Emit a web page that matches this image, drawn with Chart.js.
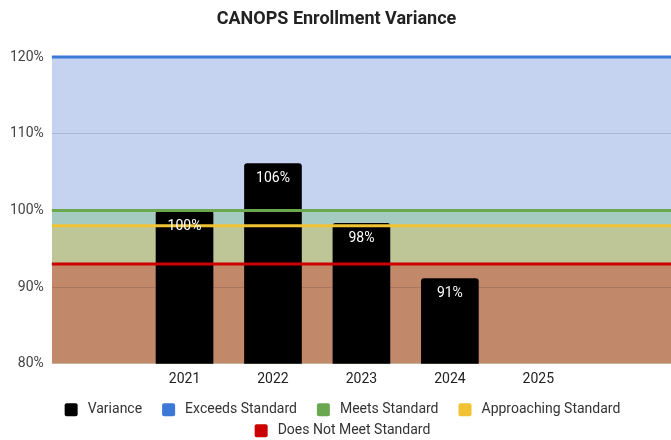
<!DOCTYPE html>
<html>
<head>
<meta charset="utf-8">
<script src="https://cdn.jsdelivr.net/npm/chart.js@4.4.1/dist/chart.umd.min.js"></script>
<style>
  body { margin: 0; background: #fff; }
  #wrap { width: 671px; height: 440px; }
</style>
</head>
<body>
<div id="wrap"><canvas id="enrollChart"></canvas></div>
<script>
// blank first/last slots keep the bars centred like the sheet
const years = ["", "2021", "2022", "2023", "2024", "2025", ""];
const variance = [null, 99.9, 106.1, 98.3, 91.1, null, null];

const exceedsStandard = [120, 120, 120, 120, 120, 120, 120];
const meetsStandard = [100, 100, 100, 100, 100, 100, 100];
const approachingStandard = [98, 98, 98, 98, 98, 98, 98];
const doesNotMeetStandard = [93, 93, 93, 93, 93, 93, 93];

const yTicks = [80, 90, 100, 110, 120];

Chart.defaults.font.family = "Roboto";

// white % labels inside the top of each bar
const barLabels = {
  id: "barLabels",
  afterDatasetsDraw(chart) {
    const ctx = chart.ctx;
    const meta = chart.getDatasetMeta(0);
    ctx.save();
    ctx.font = "14px Roboto";
    ctx.fillStyle = "#ffffff";
    ctx.textAlign = "center";
    ctx.textBaseline = "middle";
    meta.data.forEach((bar, i) => {
      if (variance[i] == null) return;
      ctx.fillText(Math.round(variance[i]) + "%", bar.x, bar.y + 15);
    });
    ctx.restore();
  }
};

// sheets-style legend: wider gaps between items than chart.js allows
const sheetLegend = {
  id: "sheetLegend",
  afterDraw(chart) {
    const ctx = chart.ctx;
    const box = 13, textGap = 10, itemGap = 20, rowH = 21;
    ctx.save();
    ctx.font = "14px Roboto";
    const items = chart.data.datasets.map(ds => {
      const w = box + textGap + ctx.measureText(ds.label).width;
      return { text: ds.label, color: ds.legendColor, w: w };
    });
    const rows = [[]];
    let rowW = 0;
    items.forEach(it => {
      const need = rowW ? rowW + itemGap + it.w : it.w;
      if (rowW && need > chart.width - 20) {
        rows.push([it]);
        rowW = it.w;
      } else {
        rows[rows.length - 1].push(it);
        rowW = need;
      }
    });
    ctx.textBaseline = "middle";
    ctx.textAlign = "left";
    rows.forEach((row, r) => {
      const total = row.reduce((s, it) => s + it.w, 0) + itemGap * (row.length - 1);
      let x = (chart.width - total) / 2 + 7;
      const y = chart.chartArea.bottom + 46 + r * rowH;
      row.forEach(it => {
        ctx.fillStyle = it.color;
        ctx.beginPath();
        ctx.roundRect(x, y - box / 2, box, box, 2);
        ctx.fill();
        ctx.fillStyle = "#333";
        ctx.fillText(it.text, x + box + textGap, y);
        x += it.w + itemGap;
      });
    });
    ctx.restore();
  }
};

function band(label, data, line, fill, order) {
  return {
    type: "line",
    label: label,
    data: data,
    xAxisID: "x2",
    borderColor: line,
    backgroundColor: fill,
    legendColor: line,
    borderWidth: 3,
    pointRadius: 0,
    fill: "start",
    clip: false,
    order: order
  };
}

const ctx = document.getElementById("enrollChart").getContext("2d");

new Chart(ctx, {
  data: {
    labels: years,
    datasets: [
      {
        type: "bar",
        label: "Variance",
        data: variance,
        backgroundColor: "#000000",
        legendColor: "#000000",
        borderRadius: { topLeft: 3, topRight: 3 },
        borderSkipped: "bottom",
        barThickness: 57,
        grouped: false,
        order: 5
      },
      band("Exceeds Standard", exceedsStandard, "#3c78d8", "#c5d3f0", 4),
      band("Meets Standard", meetsStandard, "#6aa84f", "#a5cbc0", 3),
      band("Approaching Standard", approachingStandard, "#f1c232", "#bec596", 2),
      band("Does Not Meet Standard", doesNotMeetStandard, "#cc0000", "#c2886a", 1)
    ]
  },
  options: {
    responsive: true,
    maintainAspectRatio: false,
    animation: false,
    layout: { padding: { left: 2, right: 0, top: 0, bottom: 44 } },
    scales: {
      x: {
        type: "category",
        offset: true,
        grid: { display: false, drawTicks: false },
        border: { display: false },
        ticks: {
          color: "#222",
          padding: 0,
          font: { size: 14, lineHeight: 2.3 }
        }
      },
      x2: {
        type: "category",
        labels: years,
        offset: false,
        display: false
      },
      y: {
        min: 80,
        max: 120,
        afterBuildTicks(axis) {
          axis.ticks = yTicks.map(v => ({ value: v }));
        },
        grid: {
          z: 1,
          drawTicks: false,
          color: c => (c.tick && (c.tick.value === 110 || c.tick.value === 90)) ? "rgba(0,0,0,0.13)" : "rgba(0,0,0,0)"
        },
        border: { display: false },
        ticks: {
          color: "#444",
          padding: 8,
          font: { size: 14 },
          callback: v => v + "%"
        }
      }
    },
    plugins: {
      filler: { drawTime: "beforeDatasetsDraw" },
      tooltip: { enabled: false },
      legend: { display: false },
      title: {
        display: true,
        text: "CANOPS Enrollment Variance",
        color: "#222",
        font: { size: 18, weight: "bold" },
        padding: { top: 9, bottom: 26.4 }
      }
    }
  },
  plugins: [barLabels, sheetLegend]
});
</script>
</body>
</html>
